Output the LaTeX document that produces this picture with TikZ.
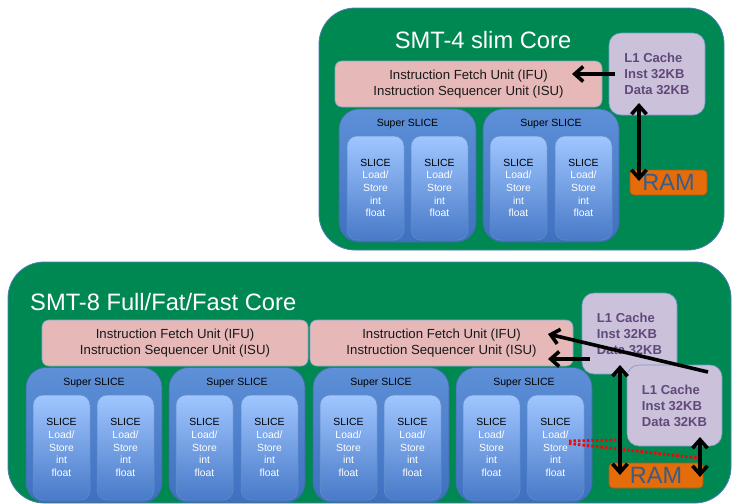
\documentclass[tikz,border=0pt]{standalone}
\usepackage{fontspec}
\setmainfont{Liberation Sans}
\usetikzlibrary{arrows.meta}
\definecolor{coregreen}{RGB}{0,136,82}
\definecolor{coreedge}{RGB}{74,126,187}
\definecolor{ifupink}{RGB}{230,185,184}
\definecolor{l1lav}{RGB}{204,193,218}
\definecolor{l1text}{RGB}{96,73,122}
\definecolor{ramorange}{RGB}{228,108,10}
\definecolor{ramedge}{RGB}{182,87,8}
\definecolor{ramtext}{RGB}{56,93,138}
\definecolor{sstop}{RGB}{94,144,216}
\definecolor{ssbot}{RGB}{62,112,192}
\definecolor{sltop}{RGB}{160,198,255}
\definecolor{slmid}{RGB}{138,178,242}
\definecolor{slbot}{RGB}{72,122,200}
\definecolor{boxedge}{RGB}{79,129,189}
\tikzset{
  corebox/.style={draw=coreedge, line width=0.8pt, fill=coregreen, rounded corners=36pt, inner sep=0pt, outer sep=0pt},
  coretitle/.style={text=white, inner sep=0pt, font=\fontsize{23.7}{28}\selectfont},
  ifubox/.style={draw=boxedge!70, line width=0.6pt, fill=ifupink, rounded corners=7pt, align=center, inner sep=0pt, outer sep=0pt, text=black!90, font=\fontsize{13.2}{16}\selectfont},
  l1box/.style={draw=boxedge!80, line width=0.6pt, fill=l1lav, rounded corners=12pt, align=left, inner sep=0pt, outer sep=0pt, text=l1text, font=\bfseries\fontsize{13}{16}\selectfont},
  rambox/.style={draw=ramedge, line width=0.6pt, fill=ramorange, rounded corners=4pt, inner sep=0pt, outer sep=0pt, text=ramtext, font=\fontsize{23.5}{24}\selectfont},
  ssbox/.style={draw=boxedge!85!black, line width=0.6pt, top color=sstop, bottom color=ssbot, rounded corners=20pt, inner sep=0pt, outer sep=0pt},
  sslabel/.style={inner sep=0pt, text=black, font=\fontsize{10.5}{12}\selectfont},
  slbox/.style={draw=boxedge!90, line width=0.5pt, top color=sltop, middle color=slmid, bottom color=slbot, rounded corners=10pt, align=center, inner sep=0pt, outer sep=0pt, text=white, font=\fontsize{10.4}{12.7}\selectfont, minimum width=57pt, minimum height=105pt},
  arr/.style={line width=3.6pt, -{Straight Barb[length=8.5pt,width=15pt]}},
  darr/.style={line width=3.6pt, {Straight Barb[length=8.5pt,width=15pt]}-{Straight Barb[length=8.5pt,width=15pt]}},
  reddot/.style={draw=red, line width=2.8pt, dash pattern=on 2.5pt off 2pt}
}
\newcommand{\slicetext}{{\color{black}SLICE}\\Load/\\Store\\int\\float}
\begin{document}
\begin{tikzpicture}[x=1pt,y=-1pt]
\useasboundingbox (0,0) rectangle (732,504);
\fill[white] (0,0) rectangle (732,504);

% ---------- SMT-4 core ----------
\node[corebox, minimum width=405pt, minimum height=242pt] (core4) at (521.5,129) {};
\node[coretitle] (t4) at (483,40) {SMT-4 slim Core};
\node[ifubox, minimum width=267pt, minimum height=46pt] (ifu4) at (468.5,84) {Instruction Fetch Unit (IFU)\\Instruction Sequencer Unit (ISU)};
\node[ssbox, minimum width=137pt, minimum height=133pt] (ss4a) at (407.5,175.5) {};
\node[ssbox, minimum width=136pt, minimum height=133pt] (ss4b) at (551,175.5) {};
\node[sslabel] (ss4al) at ([yshift=-15pt]ss4a.north) {Super SLICE};
\node[sslabel] (ss4bl) at ([yshift=-15pt]ss4b.north) {Super SLICE};
\node[slbox, minimum height=104pt] (s4a) at (375.5,188) {\slicetext};
\node[slbox, minimum height=104pt] (s4b) at (439.5,188) {\slicetext};
\node[slbox, minimum height=104pt] (s4c) at (518.5,188) {\slicetext};
\node[slbox, minimum height=104pt] (s4d) at (583.5,188) {\slicetext};
\node[l1box, minimum width=96pt, minimum height=82pt] (l1a) at (657,74) {L1 Cache\\Inst 32KB\\Data 32KB};
\node[rambox, minimum width=77pt, minimum height=25pt] (ram4) at (668.5,182.5) {RAM};

\draw[arr] ([xshift=6pt]l1a.west) -- ([xshift=-30pt,yshift=10pt]ifu4.east);
\draw[darr] ([xshift=-18pt,yshift=12pt]l1a.south) -- ([xshift=-29.5pt,yshift=-11pt]ram4.north);

% ---------- SMT-8 core ----------
\node[corebox, minimum width=723pt, minimum height=241pt] (core8) at (369.5,382.5) {};
\node[coretitle, anchor=west] (t8) at (30,302) {SMT-8 Full/Fat/Fast Core};
\node[ifubox, minimum width=266pt, minimum height=46pt] (ifu8a) at (175,343) {Instruction Fetch Unit (IFU)\\Instruction Sequencer Unit (ISU)};
\node[ifubox, minimum width=263pt, minimum height=46pt] (ifu8b) at (441.5,343) {Instruction Fetch Unit (IFU)\\Instruction Sequencer Unit (ISU)};
\node[ssbox, minimum width=136pt, minimum height=135pt] (ss8a) at (94,435) {};
\node[ssbox, minimum width=136pt, minimum height=135pt] (ss8b) at (237,435) {};
\node[ssbox, minimum width=136pt, minimum height=135pt] (ss8c) at (381,435) {};
\node[ssbox, minimum width=136pt, minimum height=135pt] (ss8d) at (524,435) {};
\node[sslabel] (ss8al) at ([yshift=-15pt]ss8a.north) {Super SLICE};
\node[sslabel] (ss8bl) at ([yshift=-15pt]ss8b.north) {Super SLICE};
\node[sslabel] (ss8cl) at ([yshift=-15pt]ss8c.north) {Super SLICE};
\node[sslabel] (ss8dl) at ([yshift=-15pt]ss8d.north) {Super SLICE};
\node[slbox] (s8a) at (61.5,447.5) {\slicetext};
\node[slbox] (s8b) at (125.5,447.5) {\slicetext};
\node[slbox] (s8c) at (204.5,447.5) {\slicetext};
\node[slbox] (s8d) at (269.5,447.5) {\slicetext};
\node[slbox] (s8e) at (348.5,447.5) {\slicetext};
\node[slbox] (s8f) at (412.5,447.5) {\slicetext};
\node[slbox] (s8g) at (491.5,447.5) {\slicetext};
\node[slbox] (s8h) at (555.5,447.5) {\slicetext};
\node[l1box, minimum width=95pt, minimum height=81pt] (l1b) at (629.5,333.5) {L1 Cache\\Inst 32KB\\Data 32KB};
\node[l1box, minimum width=95pt, minimum height=81pt] (l1c) at (674.5,405.5) {L1 Cache\\Inst 32KB\\Data 32KB};
\node[rambox, minimum width=94pt, minimum height=25pt] (ram8) at (656,475.5) {RAM};
\coordinate (redend) at (616,440);

\draw[reddot] ([xshift=-15pt,yshift=6.5pt]s8h.east) -- (redend);
\draw[reddot] ([xshift=-15pt,yshift=4pt]s8h.east) -- ([xshift=-4pt,yshift=17.5pt]ram8.east);
\draw[arr] ([xshift=8pt,yshift=-25.5pt]l1b.west) -- ([xshift=-25pt,yshift=-16pt]ifu8b.east);
\draw[arr] ([xshift=33.5pt,yshift=-7pt]l1c.north) -- ([xshift=-25pt,yshift=9pt]ifu8b.east);
\draw[darr] ([xshift=-9.5pt,yshift=9pt]l1b.south) -- ([xshift=-36pt,yshift=-12pt]ram8.north);
\draw[darr] ([xshift=25.5pt,yshift=9pt]l1c.south) -- ([xshift=-3pt,yshift=-1.5pt]ram8.east);
\end{tikzpicture}
\end{document}
